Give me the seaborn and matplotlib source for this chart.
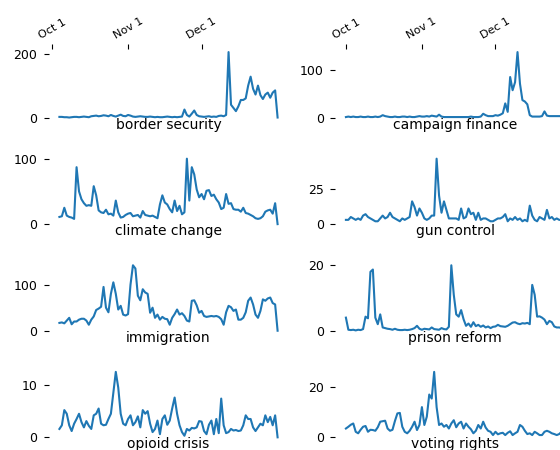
import pandas as pd
import matplotlib
matplotlib.use("Agg")
import matplotlib.pyplot as plt
import seaborn as sns

# ---------------- data ----------------
topics = ["border security", "campaign finance", "climate change", "gun control",
          "immigration", "prison reform", "opioid crisis", "voting rights"]
left_start = "2018-10-04"   # left column series start date
right_start = "2018-10-01"  # right column series start date

border_security = [2, 2, 1, 1, 0, 1, 2, 2, 1, 2, 3, 2, 1,
                   4, 5, 6, 4, 5, 7, 6, 4, 8, 5, 3, 6, 9, 5, 4, 8, 6, 3, 2, 3, 4, 3, 2, 2, 3,
                   2, 1, 2, 1, 1, 2, 3, 2, 1, 2, 1, 2, 3,
                   25, 8, 3, 12, 22, 8, 4, 3, 2, 3, 4, 2, 3, 2, 5, 6, 4,
                   8, 205, 40, 30, 20, 35, 55, 55, 60, 100, 128, 90, 72, 100, 70, 58, 72, 78,
                   62, 78, 85, 0]
campaign_finance = [1, 2, 1, 2, 1, 1, 2, 1, 1, 2, 1, 1, 2, 1, 2,
                    5, 3, 2,
                    1, 1, 2, 1, 1, 2, 2, 1, 2, 1, 1, 2, 3, 2, 2, 3, 2, 4, 3, 2,
                    6, 2,
                    1, 1, 1, 1, 1, 1, 1, 1, 1, 1, 1, 2, 1, 1, 1, 2,
                    8, 5, 3, 3, 3, 5, 4, 6, 9, 30, 12, 86, 58, 75, 139, 72, 37, 34, 28, 5,
                    2, 2, 2, 2, 3, 13, 4, 3, 3, 3, 3, 3, 3, 0]
climate_change = [11, 12, 25, 13, 11, 10, 8, 87, 50, 38,
                  32, 28, 29, 28, 58, 44, 21, 18, 17, 22,
                  15, 16, 13, 36, 18, 10, 11, 14, 16, 17,
                  12, 13, 14, 10, 20, 14, 13, 12, 13, 11,
                  9, 30, 44, 33, 30, 23, 18, 36, 20, 28,
                  15, 18, 100, 36, 87, 76, 53, 41, 46, 38,
                  51, 52, 43, 45, 38, 33, 23, 25, 46, 31,
                  32, 23, 22, 22, 19, 25, 17, 16, 14, 12,
                  9, 8, 9, 12, 19, 21, 22, 16, 32, 0]
gun_control = [3, 3, 5, 4, 3, 4, 3, 6, 7, 5,
               4, 3, 2, 2, 4, 6, 4, 5, 8, 5,
               4, 3, 2, 4, 3, 4, 5, 16, 12, 6,
               11, 8, 4, 3, 4, 6, 6, 46, 20, 8,
               16, 10, 4, 4, 4, 4, 3, 11, 4, 5,
               11, 7, 8, 3, 8, 3, 4, 4, 3, 2,
               2, 3, 4, 4, 5, 7, 2, 4, 3, 5,
               3, 4, 2, 3, 2, 13, 6, 3, 2, 5,
               4, 3, 10, 4, 5, 3, 4, 3, 3, 0]
immigration = [17, 18, 16, 22, 28, 14, 20, 20, 24, 26,
               26, 22, 13, 24, 31, 45, 48, 52, 95, 50,
               40, 80, 105, 80, 46, 54, 35, 33, 36, 100,
               142, 135, 76, 66, 90, 83, 80, 39, 50, 28,
               35, 24, 30, 26, 25, 13, 28, 36, 46, 35,
               38, 32, 22, 20, 65, 66, 55, 39, 43, 32,
               30, 31, 32, 31, 32, 30, 25, 13, 40, 54,
               51, 43, 46, 24, 24, 28, 40, 65, 72, 57,
               35, 28, 43, 68, 65, 70, 72, 60, 57, 0]
prison_reform = [4, 0.3, 0.2, 0.3, 0.1, 0.3, 0.2, 0.5, 4.3, 3.8,
                 18, 18.7, 4, 2, 5, 1, 0.8, 0.6, 0.5, 0.3,
                 0.6, 0.3, 0.2, 0.2, 0.3, 0.2, 0.3, 0.5, 0.8, 1.5,
                 0.6, 0.3, 0.6, 0.5, 0.4, 1.0, 0.5, 0.4, 0.3, 0.8,
                 0.5, 0.4, 1.2, 20, 11, 5, 4.3, 6.3, 3.5, 1.5,
                 2.2, 1.2, 2.6, 1.4, 1.8, 1.2, 1.6, 1.0, 1.3, 0.8,
                 1.2, 1.3, 1.8, 1.4, 1.3, 1.2, 1.5, 2.0, 2.5, 2.6,
                 2.2, 2.0, 2.3, 2.2, 2.4, 2.0, 14, 11, 4.3, 4.4,
                 4.0, 3.4, 2.0, 3.0, 2.6, 1.3, 1.0, 1.0, 0.8, 0]
opioid_crisis = [1.6, 2.3, 5.2, 4.5, 2.3, 1.2, 2.6, 3.5, 4.5, 2.9,
                 1.9, 3.1, 2.2, 1.6, 4.2, 4.5, 5.5, 2.6, 2.3, 2.4,
                 3.5, 4.5, 8.5, 12.5, 9.5, 4.5, 2.6, 2.3, 3.5, 4.2,
                 2.3, 2.9, 4.0, 1.9, 5.2, 4.5, 5.0, 2.6, 1.0, 1.6,
                 3.2, 0.6, 3.5, 4.2, 2.4, 3.2, 5.5, 7.6, 4.5, 2.3,
                 1.0, 0.3, 1.6, 1.3, 1.8, 1.7, 1.9, 3.1, 3.0, 1.2,
                 0.6, 2.4, 3.2, 0.6, 3.5, 0.8, 7.4, 2.3, 0.8, 1.0,
                 1.6, 1.3, 1.4, 1.2, 1.3, 2.3, 4.2, 3.5, 3.5, 1.9,
                 1.2, 1.9, 2.6, 2.3, 4.2, 2.9, 3.9, 2.3, 4.2, 0]
voting_rights = [3.5, 4.2, 5.0, 5.5, 2.2, 1.6, 3.0, 4.2, 4.5, 2.2,
                 3.0, 2.9, 2.6, 4.0, 6.2, 6.4, 6.6, 3.5, 2.6, 3.0,
                 6.5, 9.5, 9.7, 4.2, 2.2, 1.6, 2.6, 4.2, 6.2, 2.9,
                 4.9, 12, 4.9, 8.2, 17, 15.4, 26, 12, 4.9, 5.5,
                 4.2, 4.9, 3.5, 5.5, 6.8, 4.0, 5.5, 6.2, 3.5, 5.5,
                 4.2, 3.2, 1.6, 2.6, 4.9, 3.5, 6.2, 3.9, 2.6, 2.2,
                 0.9, 2.2, 1.2, 1.6, 1.8, 0.9, 1.8, 2.4, 0.9, 1.6,
                 2.2, 4.9, 4.2, 2.6, 1.3, 1.6, 0.9, 2.2, 1.6, 0.9,
                 0.9, 2.2, 2.6, 2.2, 1.6, 1.3, 0.9, 1.3, 2.2, 0]

series = [border_security, campaign_finance, climate_change, gun_control,
          immigration, prison_reform, opioid_crisis, voting_rights]
y_ticks = [[0, 200], [0, 100], [0, 100], [0, 25],
           [0, 100], [0, 20], [0, 10], [0, 20]]
tick_dates = ["2018-10-01", "2018-11-01", "2018-12-01"]
tick_labels = ["Oct 1", "Nov 1", "Dec 1"]

# ---------------- layout ----------------
W, H = 560, 450
fig = plt.figure(figsize=(W / 100, H / 100), dpi=100)
col_left = [48.5, 335.0]
ax_w, ax_h = 240.0, 72.0
row_top = [48.8 + 106.6 * r for r in range(4)]
starts = [left_start, right_start]
blue = "#1f77b4"

for k, (name, vals) in enumerate(zip(topics, series)):
    r, c = divmod(k, 2)
    ax = fig.add_axes([col_left[c] / W, 1 - (row_top[r] + ax_h) / H, ax_w / W, ax_h / H])
    dates = pd.date_range(starts[c], periods=len(vals), freq="D")
    df = pd.DataFrame({"date": dates, "count": vals})
    sns.lineplot(data=df, x="date", y="count", ax=ax, color=blue, linewidth=1.5)
    ax.set_xlabel("")
    ax.set_ylabel("")
    for s in ax.spines.values():
        s.set_visible(False)
    ax.set_yticks(y_ticks[k])
    ax.tick_params(axis="y", labelsize=9, length=3.5, pad=4.5)
    ax.set_xticks(pd.to_datetime(tick_dates))
    if r == 0:
        ax.xaxis.tick_top()
        ax.set_xticklabels(tick_labels)
        ax.tick_params(axis="x", labelsize=8, labelrotation=30, length=3.5, pad=2.5)
    else:
        ax.tick_params(axis="x", bottom=False, top=False,
                       labelbottom=False, labeltop=False)
    ax.annotate(name, xy=(0.5, 0), xycoords="axes fraction",
                xytext=(0, -2.8), textcoords="offset points",
                ha="center", va="center", fontsize=10)

fig.savefig("out.png", dpi=100)
